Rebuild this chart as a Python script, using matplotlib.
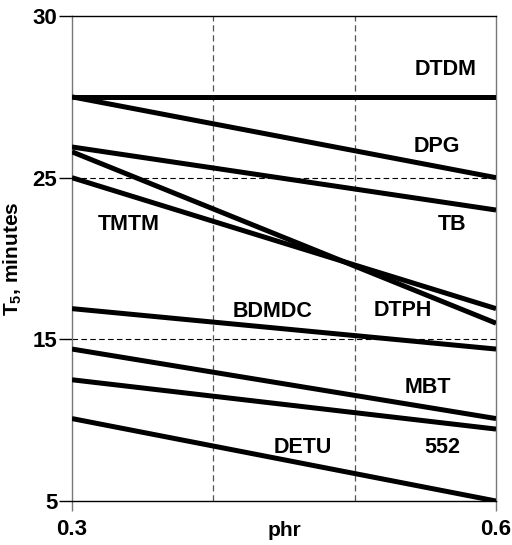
import matplotlib
matplotlib.use("Agg")
import matplotlib.pyplot as plt

plt.rcParams['font.family'] = ['Liberation Sans', 'DejaVu Sans']
plt.rcParams['mathtext.fontset'] = 'custom'
plt.rcParams['mathtext.bf'] = 'Liberation Sans:bold'
plt.rcParams['mathtext.rm'] = 'Liberation Sans:bold'

# phr at the two ends of each line, T5 (minutes)
phr = [0.3, 0.6]
dtdm = [30.0, 30.0]
dpg = [30.0, 25.0]
tb = [26.9, 23.0]
tmtm = [25.0, 16.9]
dtph = [26.6, 16.0]
bdmdc = [16.9, 14.4]
mbt = [14.4, 10.1]
s552 = [12.5, 9.45]
detu = [10.1, 5.0]

series = [dtdm, dpg, tb, tmtm, dtph, bdmdc, mbt, s552, detu]

# line labels and where they sit
label_names = ['DTDM', 'DPG', 'TB', 'TMTM', 'BDMDC', 'DTPH', 'MBT', '552', 'DETU']
label_x = [0.564, 0.558, 0.569, 0.340, 0.442, 0.534, 0.552, 0.562, 0.463]
label_y = [31.7, 26.9, 22.1, 22.1, 16.75, 16.8, 12.0, 8.3, 8.3]

fig = plt.figure(figsize=(5.12, 5.45), dpi=100)
ax = fig.add_axes([0.1406, 0.0807, 0.8282, 0.8899])

for s in series:
    ax.plot(phr, s, color='black', linewidth=3.6, solid_capstyle='butt', zorder=3)

for name, x, y in zip(label_names, label_x, label_y):
    ax.text(x, y, name, ha='center', va='center', fontsize=15.5, fontweight='bold')

# dashed reference lines
for yv in [15, 25]:
    ax.axhline(yv, color='black', linewidth=0.8, linestyle=(0, (5, 3)), zorder=1)
for xv in [0.4, 0.5]:
    ax.axvline(xv, color='#555555', linewidth=0.9, linestyle=(0, (5, 3)), zorder=1)

ax.set_xlim(0.3, 0.6)
ax.set_ylim(5, 35)
ax.set_xticks([0.3, 0.6])
ax.set_xticklabels(['0.3', '0.6'])
ax.set_yticks([5, 15, 25, 35])
ax.set_yticklabels(['5', '15', '25', '30'])
for lab in ax.get_xticklabels() + ax.get_yticklabels():
    lab.set_fontweight('bold')
    lab.set_fontsize(16)

ax.tick_params(axis='y', direction='out', length=9.5, width=1, color='black', pad=1)
ax.tick_params(axis='x', direction='out', length=7, width=1, color='#777777', pad=6)

ax.spines['left'].set_color('#777777')
ax.spines['right'].set_color('#777777')
ax.spines['top'].set_color('black')
ax.spines['bottom'].set_color('black')
for sp in ax.spines.values():
    sp.set_linewidth(1.0)

ax.set_xlabel('phr', fontsize=15, fontweight='bold', labelpad=-14)
ax.set_ylabel(r'T$_{5}$, minutes', fontsize=15, fontweight='bold', labelpad=6)

fig.savefig('out.png', dpi=100)
